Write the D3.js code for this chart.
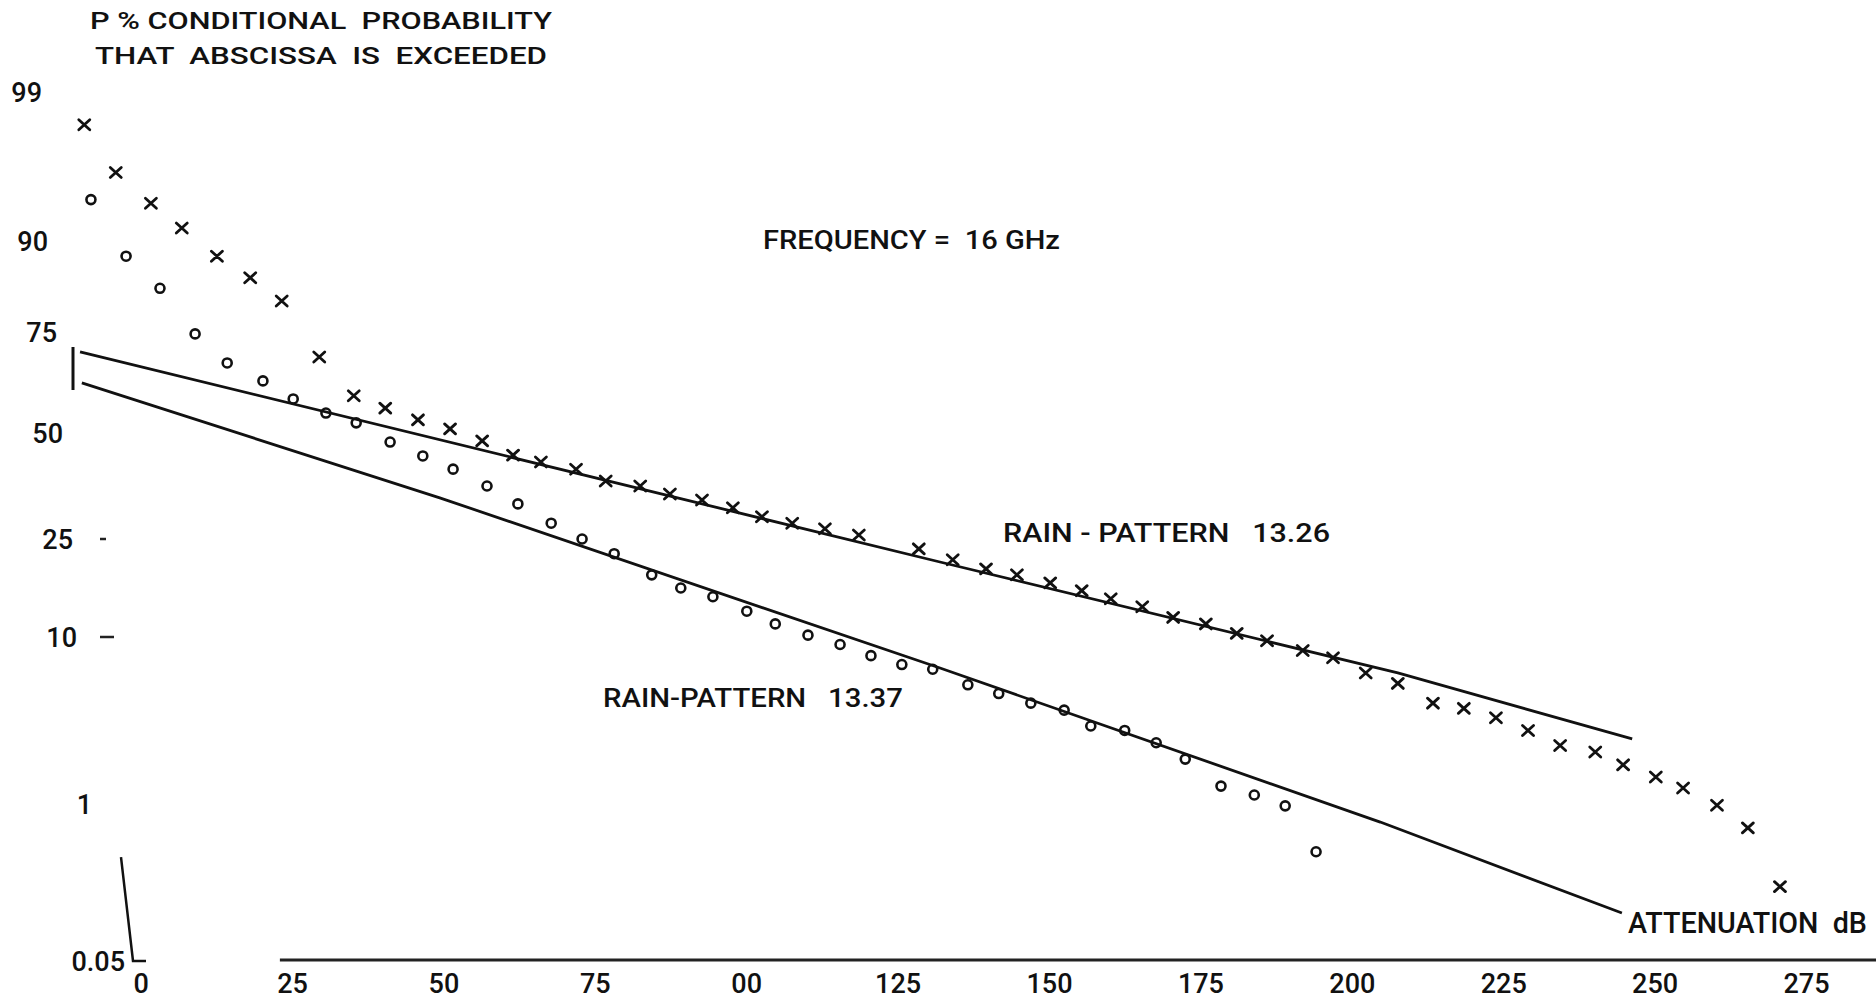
<!DOCTYPE html>
<html lang="en">
	<head>
		<meta charset="utf-8">
		<title>rain attenuation 16 GHz</title>
		<script type="text/javascript" src="https://cdn.jsdelivr.net/npm/d3@7"></script>
		<style type="text/css">
			body { margin: 0; background: #fff; }
			text { font-family: Roboto, "DejaVu Sans", sans-serif; fill: #111; white-space: pre; }
		</style>
	</head>
	<body>
		<script type="text/javascript">

			//Width and height
			var w = 1876;
			var h = 999;

			//Data: attenuation (dB) and probability (%)
			var crossDb = [-9.3, -4.1, 1.7, 6.8, 12.6, 18.1, 23.3, 29.5, 35.2, 40.4, 45.8, 51.1, 56.4, 61.5, 66.1, 71.9, 76.8, 82.5, 87.4, 92.7,
				97.8, 102.6, 107.6, 113.0, 118.6, 128.5, 134.1, 139.6, 144.7, 150.2, 155.4, 160.2, 165.4, 170.5, 175.9, 181.0, 186.0, 191.9, 196.9, 202.3,
				207.6, 213.4, 218.5, 223.8, 229.1, 234.4, 240.2, 244.8, 250.2, 254.7, 260.3, 265.4, 270.7];
			var crossP = [98.2, 96.1, 93.9, 91.5, 88.1, 85.0, 81.1, 69.4, 59.8, 56.6, 53.5, 51.1, 48.0, 44.4, 42.7, 40.9, 38.0, 36.8, 34.9, 33.5,
				31.7, 29.7, 28.3, 27.1, 25.8, 23.1, 21.1, 19.5, 18.5, 17.2, 16.0, 14.8, 13.7, 12.3, 11.5, 10.4, 9.6, 8.6, 7.9, 6.6,
				5.8, 4.5, 4.2, 3.7, 3.1, 2.5, 2.27, 1.87, 1.55, 1.30, 0.98, 0.67, 0.23];

			var circleDb = [-8.2, -2.4, 3.2, 9.0, 14.3, 20.2, 25.2, 30.6, 35.6, 41.2, 46.6, 51.6, 57.2, 62.3, 67.8, 72.9, 78.2, 84.4, 89.2, 94.5,
				100.1, 104.8, 110.2, 115.5, 120.6, 125.7, 130.8, 136.6, 141.7, 147.0, 152.5, 156.9, 162.5, 167.7, 172.5, 178.4, 183.9, 189.0, 194.1];
			var circleP = [94.2, 88.1, 83.3, 74.6, 68.0, 63.6, 59.0, 55.3, 52.7, 47.7, 44.2, 40.9, 36.8, 32.6, 28.3, 25.0, 22.2, 18.5, 16.4, 15.1,
				13.1, 11.5, 10.2, 9.2, 8.1, 7.3, 6.9, 5.7, 5.1, 4.5, 4.1, 3.3, 3.1, 2.6, 2.04, 1.34, 1.16, 0.97, 0.44];

			//fitted lines (rain patterns)
			var fit1326Db = [-10.0, 132.0, 207.6, 246.3];
			var fit1326P = [70.6, 20.7, 6.6, 2.75];
			var fit1337Db = [-9.7, 49.4, 132.0, 204.7, 244.6];
			var fit1337P = [63.1, 34.0, 7.0, 0.74, 0.137];

			//tick labels
			var xTicks = [0, 25, 50, 75, 100, 125, 150, 175, 200, 225, 250, 275];
			var xTickLabels = ["0", "25", "50", "75", "00", "125", "150", "175", "200", "225", "250", "275"];
			var yTicks = [0.05, 1, 10, 25, 50, 75, 90, 99];
			var yTickLabels = ["0.05", "1", "10", "25", "50", "75", "90", "99"];

			//layout of the hand drawn probability paper
			var yTickPos = [961, 804, 637, 539, 433, 332, 241, 92];
			var yLabelRight = [125, 92, 77, 73, 63, 57, 48, 42];
			var yTickLen = [0, 0, 14, 6, 0, 0, 0, 0];

			//inverse normal cdf (Acklam) for the probability axis
			function probit(p) {
				var a = [-39.69683028665376, 220.9460984245205, -275.9285104469687, 138.3577518672690, -30.66479806614716, 2.506628277459239];
				var b = [-54.47609879822406, 161.5858368580409, -155.6989798598866, 66.80131188771972, -13.28068155288572];
				var c = [-0.007784894002430293, -0.3223964580411365, -2.400758277161838, -2.549732539343734, 4.374664141464968, 2.938163982698783];
				var d = [0.007784695709041462, 0.3224671290700398, 2.445134137142996, 3.754408661907416];
				var plow = 0.02425, q, r;
				if (p < plow) {
					q = Math.sqrt(-2 * Math.log(p));
					return (((((c[0]*q+c[1])*q+c[2])*q+c[3])*q+c[4])*q+c[5]) / ((((d[0]*q+d[1])*q+d[2])*q+d[3])*q+1);
				}
				if (p > 1 - plow) {
					q = Math.sqrt(-2 * Math.log(1 - p));
					return -(((((c[0]*q+c[1])*q+c[2])*q+c[3])*q+c[4])*q+c[5]) / ((((d[0]*q+d[1])*q+d[2])*q+d[3])*q+1);
				}
				q = p - 0.5;
				r = q * q;
				return (((((a[0]*r+a[1])*r+a[2])*r+a[3])*r+a[4])*r+a[5])*q / (((((b[0]*r+b[1])*r+b[2])*r+b[3])*r+b[4])*r+1);
			}

			var xScale = d3.scaleLinear()
						   .domain([0, 275])
						   .range([140.6, 1806]);

			var zScale = d3.scaleLinear()
						   .domain(yTicks.map(function(p) { return probit(p / 100); }))
						   .range(yTickPos);

			function yScale(p) { return zScale(probit(p / 100)); }

			//Create SVG element
			var svg = d3.select("body")
						.append("svg")
						.attr("width", w)
						.attr("height", h);

			//left bits of the y axis
			svg.append("line")
			   .attr("x1", 73).attr("x2", 73)
			   .attr("y1", 347).attr("y2", 390)
			   .attr("stroke", "#111").attr("stroke-width", 3);

			svg.append("path")
			   .attr("d", "M121," + yScale(0.4) + "L133," + yScale(0.05) + "L146," + yScale(0.05))
			   .attr("fill", "none")
			   .attr("stroke", "#111").attr("stroke-width", 2.5);

			svg.selectAll("line.ytick")
			   .data(yTicks.filter(function(d, i) { return yTickLen[i] > 0; }))
			   .enter()
			   .append("line")
			   .attr("class", "ytick")
			   .attr("x1", 100)
			   .attr("x2", function(d) { return 100 + yTickLen[yTicks.indexOf(d)]; })
			   .attr("y1", function(d) { return yScale(d); })
			   .attr("y2", function(d) { return yScale(d); })
			   .attr("stroke", "#222").attr("stroke-width", 2.5);

			svg.selectAll("text.ylab")
			   .data(yTicks)
			   .enter()
			   .append("text")
			   .attr("class", "ylab")
			   .attr("x", function(d, i) { return yLabelRight[i]; })
			   .attr("y", function(d) { return yScale(d); })
			   .attr("dy", "0.36em")
			   .attr("text-anchor", "end")
			   .style("font-size", "27px")
			   .style("font-weight", 500)
			   .text(function(d, i) { return yTickLabels[i]; });

			//x axis baseline + labels
			svg.append("line")
			   .attr("x1", xScale(23)).attr("x2", w)
			   .attr("y1", 960).attr("y2", 960)
			   .attr("stroke", "#222").attr("stroke-width", 3);

			var xAxis = d3.axisBottom(xScale)
						  .tickValues(xTicks)
						  .tickSize(0)
						  .tickPadding(14)
						  .tickFormat(function(d, i) { return xTickLabels[i]; });

			var gx = svg.append("g")
						.attr("transform", "translate(0,960)")
						.call(xAxis);
			gx.select(".domain").remove();
			gx.selectAll("text")
			  .attr("fill", function(d) { return d === 0 ? "#4a2242" : "#111"; })
			  .style("font-family", "Roboto, sans-serif")
			  .style("font-size", "27px")
			  .style("font-weight", 500);

			//fitted lines
			var line = d3.line()
						 .x(function(d) { return xScale(d[0]); })
						 .y(function(d) { return yScale(d[1]); });

			svg.append("path")
			   .datum(fit1326Db.map(function(d, i) { return [d, fit1326P[i]]; }))
			   .attr("d", line)
			   .attr("fill", "none")
			   .attr("stroke", "#111")
			   .attr("stroke-width", 2.8);

			svg.append("path")
			   .datum(fit1337Db.map(function(d, i) { return [d, fit1337P[i]]; }))
			   .attr("d", line)
			   .attr("fill", "none")
			   .attr("stroke", "#111")
			   .attr("stroke-width", 2.8);

			//measured points
			svg.selectAll("path.cross")
			   .data(crossDb)
			   .enter()
			   .append("path")
			   .attr("class", "cross")
			   .attr("transform", function(d, i) {
			   		return "translate(" + xScale(d) + "," + yScale(crossP[i]) + ")";
			   })
			   .attr("d", "M-5.5,-5L5.5,5M-5.5,5L5.5,-5")
			   .attr("stroke", "#111")
			   .attr("stroke-width", 2.8)
			   .attr("stroke-linecap", "round");

			svg.selectAll("circle")
			   .data(circleDb)
			   .enter()
			   .append("circle")
			   .attr("cx", function(d) { return xScale(d); })
			   .attr("cy", function(d, i) { return yScale(circleP[i]); })
			   .attr("r", 4.5)
			   .attr("fill", "none")
			   .attr("stroke", "#111")
			   .attr("stroke-width", 2.6);

			//annotations
			var notes = [
				{t: "P % CONDITIONAL  PROBABILITY", x: 90, y: 21, size: 23, len: 462},
				{t: "THAT  ABSCISSA  IS  EXCEEDED", x: 95, y: 56, size: 23, len: 452},
				{t: "FREQUENCY =  16 GHz", x: 763, y: 240, size: 26, len: 297},
				{t: "RAIN - PATTERN   13.26", x: 1003, y: 533, size: 25, len: 327},
				{t: "RAIN-PATTERN   13.37", x: 603, y: 698, size: 26, len: 300},
				{t: "ATTENUATION  dB", x: 1628, y: 923, size: 29, len: 239}
			];

			svg.selectAll("text.note")
			   .data(notes)
			   .enter()
			   .append("text")
			   .attr("class", "note")
			   .attr("x", function(d) { return d.x; })
			   .attr("y", function(d) { return d.y; })
			   .attr("dy", "0.36em")
			   .attr("textLength", function(d) { return d.len; })
			   .attr("lengthAdjust", "spacingAndGlyphs")
			   .style("font-size", function(d) { return d.size + "px"; })
			   .style("font-weight", 500)
			   .text(function(d) { return d.t; });

		</script>
	</body>
</html>
